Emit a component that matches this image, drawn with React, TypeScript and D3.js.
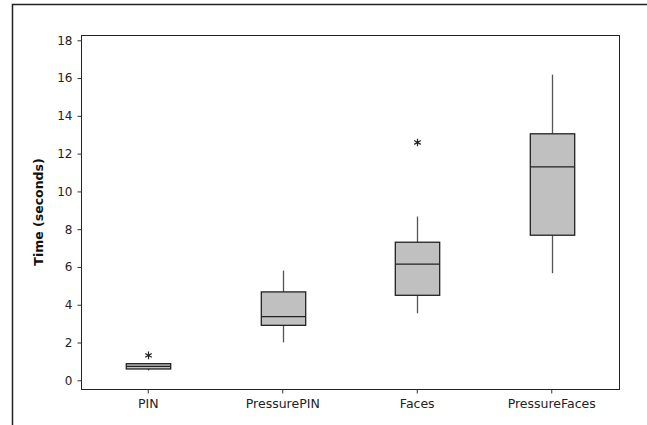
import React, { useEffect, useRef } from "react";
import * as d3 from "d3";

// categories and box stats
const categories = ["PIN", "PressurePIN", "Faces", "PressureFaces"];
const lowWhisker = [0.52, 2.01, 3.55, 5.67];
const q1 = [0.6, 2.91, 4.5, 7.68];
const median = [0.74, 3.37, 6.15, 11.3];
const q3 = [0.88, 4.68, 7.31, 13.05];
const highWhisker = [0.88, 5.81, 8.67, 16.18];
const outliers = [[1.32], [], [12.59], []];
const yTicks = [0, 2, 4, 6, 8, 10, 12, 14, 16, 18];

const App = () => {
  const ref = useRef<SVGSVGElement>(null);

  useEffect(() => {
    const svg = d3.select(ref.current);
    svg.selectAll("*").remove();

    const margin = { top: 35, right: 28, bottom: 36, left: 81 },
      w = 647 - margin.left - margin.right,
      h = 425 - margin.top - margin.bottom;

    // outer frame (only top and left edges show)
    svg.append("path")
      .attr("d", "M12.5,425 V4.5 H647")
      .attr("fill", "none")
      .attr("stroke", "#222")
      .attr("stroke-width", 1.5);

    const g = svg.append("g").attr("transform", `translate(${margin.left},${margin.top})`);

    const x = d3.scaleBand().domain(categories).range([0, w]).padding(0);
    const y = d3.scaleLinear().domain([-0.46, 18.28]).range([h, 0]);

    g.append("rect")
      .attr("x", 0.5).attr("y", 0.5)
      .attr("width", w).attr("height", h)
      .attr("fill", "none").attr("stroke", "#222");

    const yAxis = g.append("g")
      .attr("transform", "translate(0.5,0)")
      .call(d3.axisLeft(y).tickValues(yTicks).tickSize(4).tickPadding(5));
    yAxis.select(".domain").remove();
    yAxis.selectAll(".tick text").attr("font-size", 12);

    const xAxis = g.append("g")
      .attr("transform", `translate(0,${h + 0.5})`)
      .call(d3.axisBottom(x).tickSize(4).tickPadding(6));
    xAxis.select(".domain").remove();
    xAxis.selectAll(".tick text").attr("font-size", 12.5);

    svg.selectAll(".tick line").attr("stroke", "#333");
    svg.selectAll(".tick text")
      .attr("font-family", "DejaVu Sans, Verdana, sans-serif")
      .attr("fill", "#222");

    svg.append("text")
      .attr("transform", `translate(43,212) rotate(-90)`)
      .attr("text-anchor", "middle")
      .attr("font-family", "DejaVu Sans, Verdana, sans-serif")
      .attr("font-weight", "bold")
      .attr("font-size", 12.5)
      .attr("fill", "#111")
      .text("Time (seconds)");

    const bw = x.bandwidth() * 0.33;

    categories.forEach((c, i) => {
      const cx = Math.round(x(c)! + x.bandwidth() / 2) + 0.5;
      // whiskers
      g.append("line")
        .attr("x1", cx).attr("x2", cx)
        .attr("y1", y(q3[i])).attr("y2", y(highWhisker[i]))
        .attr("stroke", "#555").attr("stroke-width", 1.3);
      g.append("line")
        .attr("x1", cx).attr("x2", cx)
        .attr("y1", y(q1[i])).attr("y2", y(lowWhisker[i]))
        .attr("stroke", "#555").attr("stroke-width", 1.3);
      // box
      g.append("rect")
        .attr("x", cx - bw / 2).attr("y", y(q3[i]))
        .attr("width", bw).attr("height", y(q1[i]) - y(q3[i]))
        .attr("fill", "#c0c0c0").attr("stroke", "#222").attr("stroke-width", 1.3);
      g.append("line")
        .attr("x1", cx - bw / 2).attr("x2", cx + bw / 2)
        .attr("y1", y(median[i])).attr("y2", y(median[i]))
        .attr("stroke", "#222").attr("stroke-width", 1.3);
      // outliers
      outliers[i].forEach(o => {
        g.append("path")
          .attr("transform", `translate(${cx},${y(o)})`)
          .attr("d", d3.symbol(d3.symbolAsterisk, 40)())
          .attr("fill", "none").attr("stroke", "#222").attr("stroke-width", 1.2);
      });
    });
  }, []);

  return (
    <svg ref={ref} width={647} height={425}
      style={{ position: "absolute", left: 0, top: 0, background: "#fff" }} />
  );
};

export default App;
